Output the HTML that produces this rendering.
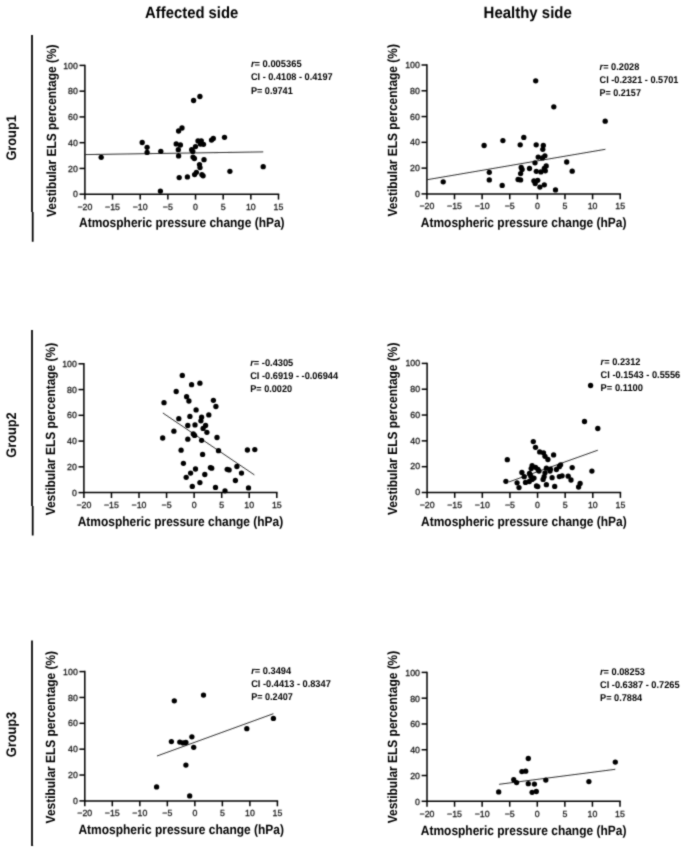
<!DOCTYPE html>
<html><head><meta charset="utf-8"><title>Figure</title>
<style>html,body{margin:0;padding:0;background:#fff;}svg{display:block;}text{font-family:"Liberation Sans", sans-serif;fill:#000;text-rendering:geometricPrecision;}.t{fill:#111;stroke:#111;stroke-width:0.25px;}</style>
</head><body>
<svg width="685" height="853" viewBox="0 0 685 853">
<rect x="0" y="0" width="685" height="853" fill="#ffffff"/>
<defs><filter id="soft" x="0" y="0" width="685" height="853" filterUnits="userSpaceOnUse"><feConvolveMatrix order="3" kernelMatrix="0.03 0.1 0.03 0.1 0.48 0.1 0.03 0.1 0.03" divisor="1" edgeMode="duplicate" preserveAlpha="false"/></filter></defs>
<g id="all" filter="url(#soft)">
<text x="145.1" y="17.6" font-size="16.20" font-weight="bold" text-anchor="start" textLength="93.2" lengthAdjust="spacingAndGlyphs">Affected side</text>
<text x="483.6" y="17.6" font-size="16.20" font-weight="bold" text-anchor="start" textLength="88.2" lengthAdjust="spacingAndGlyphs">Healthy side</text>
<path d="M32.0 35.1 V212.0 M32.7 212.0 V241.8" fill="none" stroke="#000" stroke-width="1.75"/>
<text transform="translate(16.0,137.9) rotate(-90)" font-size="13.9" font-weight="bold" text-anchor="middle" textLength="45.4" lengthAdjust="spacingAndGlyphs">Group1</text>
<path d="M32.0 330.0 V506.0 M32.7 506.0 V535.5" fill="none" stroke="#000" stroke-width="1.75"/>
<text transform="translate(16.0,435.0) rotate(-90)" font-size="13.9" font-weight="bold" text-anchor="middle" textLength="45.4" lengthAdjust="spacingAndGlyphs">Group2</text>
<path d="M32.0 640.5 V846.0 M32.7 846.0 V845.8" fill="none" stroke="#000" stroke-width="1.75"/>
<text transform="translate(16.0,734.5) rotate(-90)" font-size="13.9" font-weight="bold" text-anchor="middle" textLength="45.4" lengthAdjust="spacingAndGlyphs">Group3</text>
<g>
<path d="M84.90 65.40 V194.20 H278.50" fill="none" stroke="#000" stroke-width="1.50" stroke-linecap="square"/>
<line x1="79.50" y1="194.20" x2="84.90" y2="194.20" stroke="#000" stroke-width="1.50"/>
<text class="t" x="77.90" y="197.30" font-size="8.80" font-weight="normal" text-anchor="end">0</text>
<line x1="79.50" y1="168.44" x2="84.90" y2="168.44" stroke="#000" stroke-width="1.50"/>
<text class="t" x="77.90" y="171.54" font-size="8.80" font-weight="normal" text-anchor="end">20</text>
<line x1="79.50" y1="142.68" x2="84.90" y2="142.68" stroke="#000" stroke-width="1.50"/>
<text class="t" x="77.90" y="145.78" font-size="8.80" font-weight="normal" text-anchor="end">40</text>
<line x1="79.50" y1="116.92" x2="84.90" y2="116.92" stroke="#000" stroke-width="1.50"/>
<text class="t" x="77.90" y="120.02" font-size="8.80" font-weight="normal" text-anchor="end">60</text>
<line x1="79.50" y1="91.16" x2="84.90" y2="91.16" stroke="#000" stroke-width="1.50"/>
<text class="t" x="77.90" y="94.26" font-size="8.80" font-weight="normal" text-anchor="end">80</text>
<line x1="79.50" y1="65.40" x2="84.90" y2="65.40" stroke="#000" stroke-width="1.50"/>
<text class="t" x="77.90" y="68.50" font-size="8.80" font-weight="normal" text-anchor="end">100</text>
<line x1="84.90" y1="194.20" x2="84.90" y2="199.60" stroke="#000" stroke-width="1.50"/>
<text class="t" x="84.90" y="209.50" font-size="8.80" font-weight="normal" text-anchor="middle">−20</text>
<line x1="112.56" y1="194.20" x2="112.56" y2="199.60" stroke="#000" stroke-width="1.50"/>
<text class="t" x="112.56" y="209.50" font-size="8.80" font-weight="normal" text-anchor="middle">−15</text>
<line x1="140.21" y1="194.20" x2="140.21" y2="199.60" stroke="#000" stroke-width="1.50"/>
<text class="t" x="140.21" y="209.50" font-size="8.80" font-weight="normal" text-anchor="middle">−10</text>
<line x1="167.87" y1="194.20" x2="167.87" y2="199.60" stroke="#000" stroke-width="1.50"/>
<text class="t" x="167.87" y="209.50" font-size="8.80" font-weight="normal" text-anchor="middle">−5</text>
<line x1="195.53" y1="194.20" x2="195.53" y2="199.60" stroke="#000" stroke-width="1.50"/>
<text class="t" x="195.53" y="209.50" font-size="8.80" font-weight="normal" text-anchor="middle">0</text>
<line x1="223.19" y1="194.20" x2="223.19" y2="199.60" stroke="#000" stroke-width="1.50"/>
<text class="t" x="223.19" y="209.50" font-size="8.80" font-weight="normal" text-anchor="middle">5</text>
<line x1="250.84" y1="194.20" x2="250.84" y2="199.60" stroke="#000" stroke-width="1.50"/>
<text class="t" x="250.84" y="209.50" font-size="8.80" font-weight="normal" text-anchor="middle">10</text>
<line x1="278.50" y1="194.20" x2="278.50" y2="199.60" stroke="#000" stroke-width="1.50"/>
<text class="t" x="278.50" y="209.50" font-size="8.80" font-weight="normal" text-anchor="middle">15</text>
<text x="181.80" y="227.00" font-size="13.30" font-weight="bold" text-anchor="middle" textLength="205.6" lengthAdjust="spacingAndGlyphs">Atmospheric pressure change (hPa)</text>
<text transform="translate(55.70,130.70) rotate(-90)" font-size="13.30" font-weight="bold" text-anchor="middle" textLength="172.5" lengthAdjust="spacingAndGlyphs">Vestibular ELS percentage (%)</text>
<line x1="84.90" y1="154.60" x2="263.20" y2="151.90" stroke="#222" stroke-width="0.95"/>
<circle cx="101.2" cy="157.3" r="2.65" fill="#000"/>
<circle cx="142.2" cy="142.5" r="2.65" fill="#000"/>
<circle cx="147.1" cy="147.3" r="2.65" fill="#000"/>
<circle cx="147.1" cy="152.4" r="2.65" fill="#000"/>
<circle cx="160.8" cy="151.3" r="2.65" fill="#000"/>
<circle cx="160.4" cy="191.1" r="2.65" fill="#000"/>
<circle cx="176.2" cy="143.9" r="2.65" fill="#000"/>
<circle cx="180.4" cy="145.0" r="2.65" fill="#000"/>
<circle cx="178.3" cy="149.7" r="2.65" fill="#000"/>
<circle cx="178.6" cy="155.9" r="2.65" fill="#000"/>
<circle cx="178.6" cy="131.0" r="2.65" fill="#000"/>
<circle cx="182.0" cy="128.0" r="2.65" fill="#000"/>
<circle cx="179.2" cy="177.6" r="2.65" fill="#000"/>
<circle cx="187.4" cy="176.9" r="2.65" fill="#000"/>
<circle cx="193.6" cy="100.5" r="2.65" fill="#000"/>
<circle cx="199.9" cy="96.5" r="2.65" fill="#000"/>
<circle cx="191.7" cy="149.7" r="2.65" fill="#000"/>
<circle cx="192.8" cy="151.4" r="2.65" fill="#000"/>
<circle cx="195.5" cy="146.6" r="2.65" fill="#000"/>
<circle cx="198.0" cy="140.9" r="2.65" fill="#000"/>
<circle cx="201.3" cy="140.8" r="2.65" fill="#000"/>
<circle cx="200.4" cy="144.0" r="2.65" fill="#000"/>
<circle cx="203.5" cy="144.3" r="2.65" fill="#000"/>
<circle cx="211.5" cy="140.1" r="2.65" fill="#000"/>
<circle cx="213.3" cy="138.5" r="2.65" fill="#000"/>
<circle cx="224.5" cy="137.3" r="2.65" fill="#000"/>
<circle cx="193.0" cy="157.1" r="2.65" fill="#000"/>
<circle cx="194.4" cy="158.5" r="2.65" fill="#000"/>
<circle cx="204.0" cy="159.7" r="2.65" fill="#000"/>
<circle cx="199.5" cy="164.6" r="2.65" fill="#000"/>
<circle cx="200.0" cy="167.6" r="2.65" fill="#000"/>
<circle cx="196.4" cy="172.3" r="2.65" fill="#000"/>
<circle cx="194.6" cy="174.6" r="2.65" fill="#000"/>
<circle cx="201.9" cy="174.6" r="2.65" fill="#000"/>
<circle cx="203.1" cy="175.8" r="2.65" fill="#000"/>
<circle cx="229.9" cy="171.3" r="2.65" fill="#000"/>
<circle cx="263.2" cy="166.7" r="2.65" fill="#000"/>
<text x="250.9" y="67.2" font-size="9.80" font-weight="bold" textLength="50.7" lengthAdjust="spacingAndGlyphs"><tspan font-style="italic">r</tspan>= 0.005365</text>
<text x="250.9" y="80.2" font-size="9.80" font-weight="bold" textLength="81.8" lengthAdjust="spacingAndGlyphs">CI - 0.4108 - 0.4197</text>
<text x="250.9" y="93.5" font-size="9.80" font-weight="bold" textLength="41.9" lengthAdjust="spacingAndGlyphs">P= 0.9741</text>
</g>
<g>
<path d="M426.90 65.00 V193.90 H620.20" fill="none" stroke="#000" stroke-width="1.50" stroke-linecap="square"/>
<line x1="421.50" y1="193.90" x2="426.90" y2="193.90" stroke="#000" stroke-width="1.50"/>
<text class="t" x="419.90" y="197.00" font-size="8.80" font-weight="normal" text-anchor="end">0</text>
<line x1="421.50" y1="168.12" x2="426.90" y2="168.12" stroke="#000" stroke-width="1.50"/>
<text class="t" x="419.90" y="171.22" font-size="8.80" font-weight="normal" text-anchor="end">20</text>
<line x1="421.50" y1="142.34" x2="426.90" y2="142.34" stroke="#000" stroke-width="1.50"/>
<text class="t" x="419.90" y="145.44" font-size="8.80" font-weight="normal" text-anchor="end">40</text>
<line x1="421.50" y1="116.56" x2="426.90" y2="116.56" stroke="#000" stroke-width="1.50"/>
<text class="t" x="419.90" y="119.66" font-size="8.80" font-weight="normal" text-anchor="end">60</text>
<line x1="421.50" y1="90.78" x2="426.90" y2="90.78" stroke="#000" stroke-width="1.50"/>
<text class="t" x="419.90" y="93.88" font-size="8.80" font-weight="normal" text-anchor="end">80</text>
<line x1="421.50" y1="65.00" x2="426.90" y2="65.00" stroke="#000" stroke-width="1.50"/>
<text class="t" x="419.90" y="68.10" font-size="8.80" font-weight="normal" text-anchor="end">100</text>
<line x1="426.90" y1="193.90" x2="426.90" y2="199.30" stroke="#000" stroke-width="1.50"/>
<text class="t" x="426.90" y="209.20" font-size="8.80" font-weight="normal" text-anchor="middle">−20</text>
<line x1="454.51" y1="193.90" x2="454.51" y2="199.30" stroke="#000" stroke-width="1.50"/>
<text class="t" x="454.51" y="209.20" font-size="8.80" font-weight="normal" text-anchor="middle">−15</text>
<line x1="482.13" y1="193.90" x2="482.13" y2="199.30" stroke="#000" stroke-width="1.50"/>
<text class="t" x="482.13" y="209.20" font-size="8.80" font-weight="normal" text-anchor="middle">−10</text>
<line x1="509.74" y1="193.90" x2="509.74" y2="199.30" stroke="#000" stroke-width="1.50"/>
<text class="t" x="509.74" y="209.20" font-size="8.80" font-weight="normal" text-anchor="middle">−5</text>
<line x1="537.36" y1="193.90" x2="537.36" y2="199.30" stroke="#000" stroke-width="1.50"/>
<text class="t" x="537.36" y="209.20" font-size="8.80" font-weight="normal" text-anchor="middle">0</text>
<line x1="564.97" y1="193.90" x2="564.97" y2="199.30" stroke="#000" stroke-width="1.50"/>
<text class="t" x="564.97" y="209.20" font-size="8.80" font-weight="normal" text-anchor="middle">5</text>
<line x1="592.59" y1="193.90" x2="592.59" y2="199.30" stroke="#000" stroke-width="1.50"/>
<text class="t" x="592.59" y="209.20" font-size="8.80" font-weight="normal" text-anchor="middle">10</text>
<line x1="620.20" y1="193.90" x2="620.20" y2="199.30" stroke="#000" stroke-width="1.50"/>
<text class="t" x="620.20" y="209.20" font-size="8.80" font-weight="normal" text-anchor="middle">15</text>
<text x="523.65" y="227.00" font-size="13.30" font-weight="bold" text-anchor="middle" textLength="205.6" lengthAdjust="spacingAndGlyphs">Atmospheric pressure change (hPa)</text>
<text transform="translate(397.00,130.35) rotate(-90)" font-size="13.30" font-weight="bold" text-anchor="middle" textLength="172.5" lengthAdjust="spacingAndGlyphs">Vestibular ELS percentage (%)</text>
<line x1="427.20" y1="179.70" x2="605.40" y2="149.30" stroke="#222" stroke-width="0.95"/>
<circle cx="443.2" cy="181.8" r="2.65" fill="#000"/>
<circle cx="484.1" cy="145.5" r="2.65" fill="#000"/>
<circle cx="489.3" cy="172.3" r="2.65" fill="#000"/>
<circle cx="489.3" cy="179.9" r="2.65" fill="#000"/>
<circle cx="502.9" cy="140.6" r="2.65" fill="#000"/>
<circle cx="502.2" cy="185.4" r="2.65" fill="#000"/>
<circle cx="520.2" cy="144.8" r="2.65" fill="#000"/>
<circle cx="523.8" cy="137.4" r="2.65" fill="#000"/>
<circle cx="521.2" cy="167.4" r="2.65" fill="#000"/>
<circle cx="522.1" cy="169.5" r="2.65" fill="#000"/>
<circle cx="520.6" cy="173.6" r="2.65" fill="#000"/>
<circle cx="518.1" cy="179.5" r="2.65" fill="#000"/>
<circle cx="520.6" cy="179.9" r="2.65" fill="#000"/>
<circle cx="529.5" cy="168.5" r="2.65" fill="#000"/>
<circle cx="535.7" cy="80.8" r="2.65" fill="#000"/>
<circle cx="536.2" cy="144.8" r="2.65" fill="#000"/>
<circle cx="543.3" cy="145.5" r="2.65" fill="#000"/>
<circle cx="542.8" cy="149.3" r="2.65" fill="#000"/>
<circle cx="538.2" cy="157.1" r="2.65" fill="#000"/>
<circle cx="542.4" cy="157.9" r="2.65" fill="#000"/>
<circle cx="544.9" cy="155.8" r="2.65" fill="#000"/>
<circle cx="535.0" cy="162.8" r="2.65" fill="#000"/>
<circle cx="546.2" cy="166.0" r="2.65" fill="#000"/>
<circle cx="544.3" cy="168.5" r="2.65" fill="#000"/>
<circle cx="545.3" cy="170.8" r="2.65" fill="#000"/>
<circle cx="536.3" cy="171.3" r="2.65" fill="#000"/>
<circle cx="540.9" cy="171.9" r="2.65" fill="#000"/>
<circle cx="533.9" cy="180.8" r="2.65" fill="#000"/>
<circle cx="537.7" cy="180.3" r="2.65" fill="#000"/>
<circle cx="535.2" cy="183.5" r="2.65" fill="#000"/>
<circle cx="539.9" cy="187.1" r="2.65" fill="#000"/>
<circle cx="544.3" cy="184.8" r="2.65" fill="#000"/>
<circle cx="553.8" cy="106.8" r="2.65" fill="#000"/>
<circle cx="605.2" cy="121.2" r="2.65" fill="#000"/>
<circle cx="566.7" cy="162.0" r="2.65" fill="#000"/>
<circle cx="572.2" cy="171.2" r="2.65" fill="#000"/>
<circle cx="555.5" cy="189.9" r="2.65" fill="#000"/>
<text x="599.6" y="70.2" font-size="9.80" font-weight="bold" textLength="39.7" lengthAdjust="spacingAndGlyphs"><tspan font-style="italic">r</tspan>= 0.2028</text>
<text x="599.6" y="83.2" font-size="9.80" font-weight="bold" textLength="78.8" lengthAdjust="spacingAndGlyphs">CI -0.2321 - 0.5701</text>
<text x="599.6" y="96.2" font-size="9.80" font-weight="bold" textLength="41.3" lengthAdjust="spacingAndGlyphs">P= 0.2157</text>
</g>
<g>
<path d="M83.90 363.80 V492.60 H276.80" fill="none" stroke="#000" stroke-width="1.50" stroke-linecap="square"/>
<line x1="78.50" y1="492.60" x2="83.90" y2="492.60" stroke="#000" stroke-width="1.50"/>
<text class="t" x="76.90" y="495.70" font-size="8.80" font-weight="normal" text-anchor="end">0</text>
<line x1="78.50" y1="466.84" x2="83.90" y2="466.84" stroke="#000" stroke-width="1.50"/>
<text class="t" x="76.90" y="469.94" font-size="8.80" font-weight="normal" text-anchor="end">20</text>
<line x1="78.50" y1="441.08" x2="83.90" y2="441.08" stroke="#000" stroke-width="1.50"/>
<text class="t" x="76.90" y="444.18" font-size="8.80" font-weight="normal" text-anchor="end">40</text>
<line x1="78.50" y1="415.32" x2="83.90" y2="415.32" stroke="#000" stroke-width="1.50"/>
<text class="t" x="76.90" y="418.42" font-size="8.80" font-weight="normal" text-anchor="end">60</text>
<line x1="78.50" y1="389.56" x2="83.90" y2="389.56" stroke="#000" stroke-width="1.50"/>
<text class="t" x="76.90" y="392.66" font-size="8.80" font-weight="normal" text-anchor="end">80</text>
<line x1="78.50" y1="363.80" x2="83.90" y2="363.80" stroke="#000" stroke-width="1.50"/>
<text class="t" x="76.90" y="366.90" font-size="8.80" font-weight="normal" text-anchor="end">100</text>
<line x1="83.90" y1="492.60" x2="83.90" y2="498.00" stroke="#000" stroke-width="1.50"/>
<text class="t" x="83.90" y="507.90" font-size="8.80" font-weight="normal" text-anchor="middle">−20</text>
<line x1="111.46" y1="492.60" x2="111.46" y2="498.00" stroke="#000" stroke-width="1.50"/>
<text class="t" x="111.46" y="507.90" font-size="8.80" font-weight="normal" text-anchor="middle">−15</text>
<line x1="139.01" y1="492.60" x2="139.01" y2="498.00" stroke="#000" stroke-width="1.50"/>
<text class="t" x="139.01" y="507.90" font-size="8.80" font-weight="normal" text-anchor="middle">−10</text>
<line x1="166.57" y1="492.60" x2="166.57" y2="498.00" stroke="#000" stroke-width="1.50"/>
<text class="t" x="166.57" y="507.90" font-size="8.80" font-weight="normal" text-anchor="middle">−5</text>
<line x1="194.13" y1="492.60" x2="194.13" y2="498.00" stroke="#000" stroke-width="1.50"/>
<text class="t" x="194.13" y="507.90" font-size="8.80" font-weight="normal" text-anchor="middle">0</text>
<line x1="221.69" y1="492.60" x2="221.69" y2="498.00" stroke="#000" stroke-width="1.50"/>
<text class="t" x="221.69" y="507.90" font-size="8.80" font-weight="normal" text-anchor="middle">5</text>
<line x1="249.24" y1="492.60" x2="249.24" y2="498.00" stroke="#000" stroke-width="1.50"/>
<text class="t" x="249.24" y="507.90" font-size="8.80" font-weight="normal" text-anchor="middle">10</text>
<line x1="276.80" y1="492.60" x2="276.80" y2="498.00" stroke="#000" stroke-width="1.50"/>
<text class="t" x="276.80" y="507.90" font-size="8.80" font-weight="normal" text-anchor="middle">15</text>
<text x="180.45" y="526.30" font-size="13.30" font-weight="bold" text-anchor="middle" textLength="205.6" lengthAdjust="spacingAndGlyphs">Atmospheric pressure change (hPa)</text>
<text transform="translate(54.70,429.10) rotate(-90)" font-size="13.30" font-weight="bold" text-anchor="middle" textLength="172.5" lengthAdjust="spacingAndGlyphs">Vestibular ELS percentage (%)</text>
<line x1="162.90" y1="413.00" x2="254.40" y2="474.90" stroke="#222" stroke-width="0.95"/>
<circle cx="182.3" cy="375.4" r="2.65" fill="#000"/>
<circle cx="191.6" cy="384.7" r="2.65" fill="#000"/>
<circle cx="199.9" cy="383.2" r="2.65" fill="#000"/>
<circle cx="176.2" cy="391.5" r="2.65" fill="#000"/>
<circle cx="186.6" cy="396.7" r="2.65" fill="#000"/>
<circle cx="188.9" cy="401.0" r="2.65" fill="#000"/>
<circle cx="164.0" cy="402.7" r="2.65" fill="#000"/>
<circle cx="213.4" cy="400.3" r="2.65" fill="#000"/>
<circle cx="215.9" cy="406.5" r="2.65" fill="#000"/>
<circle cx="196.1" cy="409.9" r="2.65" fill="#000"/>
<circle cx="208.8" cy="414.9" r="2.65" fill="#000"/>
<circle cx="189.9" cy="416.4" r="2.65" fill="#000"/>
<circle cx="201.6" cy="417.2" r="2.65" fill="#000"/>
<circle cx="178.8" cy="418.7" r="2.65" fill="#000"/>
<circle cx="200.9" cy="420.8" r="2.65" fill="#000"/>
<circle cx="187.8" cy="425.5" r="2.65" fill="#000"/>
<circle cx="195.0" cy="424.9" r="2.65" fill="#000"/>
<circle cx="205.6" cy="425.5" r="2.65" fill="#000"/>
<circle cx="203.1" cy="428.4" r="2.65" fill="#000"/>
<circle cx="173.9" cy="431.2" r="2.65" fill="#000"/>
<circle cx="206.9" cy="432.3" r="2.65" fill="#000"/>
<circle cx="193.3" cy="434.0" r="2.65" fill="#000"/>
<circle cx="194.6" cy="435.4" r="2.65" fill="#000"/>
<circle cx="162.7" cy="438.0" r="2.65" fill="#000"/>
<circle cx="187.8" cy="439.2" r="2.65" fill="#000"/>
<circle cx="201.6" cy="440.3" r="2.65" fill="#000"/>
<circle cx="217.0" cy="437.5" r="2.65" fill="#000"/>
<circle cx="181.1" cy="450.2" r="2.65" fill="#000"/>
<circle cx="218.5" cy="450.7" r="2.65" fill="#000"/>
<circle cx="202.6" cy="454.4" r="2.65" fill="#000"/>
<circle cx="247.4" cy="450.0" r="2.65" fill="#000"/>
<circle cx="254.8" cy="449.6" r="2.65" fill="#000"/>
<circle cx="183.4" cy="463.3" r="2.65" fill="#000"/>
<circle cx="236.9" cy="466.5" r="2.65" fill="#000"/>
<circle cx="195.5" cy="469.0" r="2.65" fill="#000"/>
<circle cx="210.4" cy="467.6" r="2.65" fill="#000"/>
<circle cx="211.7" cy="468.2" r="2.65" fill="#000"/>
<circle cx="227.2" cy="469.3" r="2.65" fill="#000"/>
<circle cx="229.1" cy="469.9" r="2.65" fill="#000"/>
<circle cx="190.6" cy="473.1" r="2.65" fill="#000"/>
<circle cx="204.8" cy="474.5" r="2.65" fill="#000"/>
<circle cx="241.5" cy="473.1" r="2.65" fill="#000"/>
<circle cx="186.2" cy="477.3" r="2.65" fill="#000"/>
<circle cx="235.4" cy="480.5" r="2.65" fill="#000"/>
<circle cx="199.9" cy="482.6" r="2.65" fill="#000"/>
<circle cx="192.3" cy="486.4" r="2.65" fill="#000"/>
<circle cx="215.5" cy="487.4" r="2.65" fill="#000"/>
<circle cx="248.5" cy="487.9" r="2.65" fill="#000"/>
<circle cx="225.0" cy="490.8" r="2.65" fill="#000"/>
<text x="250.2" y="365.6" font-size="9.80" font-weight="bold" textLength="43.1" lengthAdjust="spacingAndGlyphs"><tspan font-style="italic">r</tspan>= -0.4305</text>
<text x="250.2" y="378.5" font-size="9.80" font-weight="bold" textLength="87.9" lengthAdjust="spacingAndGlyphs">CI -0.6919 - -0.06944</text>
<text x="250.2" y="391.5" font-size="9.80" font-weight="bold" textLength="41.9" lengthAdjust="spacingAndGlyphs">P= 0.0020</text>
</g>
<g>
<path d="M427.10 363.40 V492.50 H620.40" fill="none" stroke="#000" stroke-width="1.50" stroke-linecap="square"/>
<line x1="421.70" y1="492.50" x2="427.10" y2="492.50" stroke="#000" stroke-width="1.50"/>
<text class="t" x="420.10" y="495.30" font-size="8.80" font-weight="normal" text-anchor="end">0</text>
<line x1="421.70" y1="466.68" x2="427.10" y2="466.68" stroke="#000" stroke-width="1.50"/>
<text class="t" x="420.10" y="469.48" font-size="8.80" font-weight="normal" text-anchor="end">20</text>
<line x1="421.70" y1="440.86" x2="427.10" y2="440.86" stroke="#000" stroke-width="1.50"/>
<text class="t" x="420.10" y="443.66" font-size="8.80" font-weight="normal" text-anchor="end">40</text>
<line x1="421.70" y1="415.04" x2="427.10" y2="415.04" stroke="#000" stroke-width="1.50"/>
<text class="t" x="420.10" y="417.84" font-size="8.80" font-weight="normal" text-anchor="end">60</text>
<line x1="421.70" y1="389.22" x2="427.10" y2="389.22" stroke="#000" stroke-width="1.50"/>
<text class="t" x="420.10" y="392.02" font-size="8.80" font-weight="normal" text-anchor="end">80</text>
<line x1="421.70" y1="363.40" x2="427.10" y2="363.40" stroke="#000" stroke-width="1.50"/>
<text class="t" x="420.10" y="366.20" font-size="8.80" font-weight="normal" text-anchor="end">100</text>
<line x1="427.10" y1="492.50" x2="427.10" y2="497.90" stroke="#000" stroke-width="1.50"/>
<text class="t" x="427.10" y="507.50" font-size="8.80" font-weight="normal" text-anchor="middle">−20</text>
<line x1="454.71" y1="492.50" x2="454.71" y2="497.90" stroke="#000" stroke-width="1.50"/>
<text class="t" x="454.71" y="507.50" font-size="8.80" font-weight="normal" text-anchor="middle">−15</text>
<line x1="482.33" y1="492.50" x2="482.33" y2="497.90" stroke="#000" stroke-width="1.50"/>
<text class="t" x="482.33" y="507.50" font-size="8.80" font-weight="normal" text-anchor="middle">−10</text>
<line x1="509.94" y1="492.50" x2="509.94" y2="497.90" stroke="#000" stroke-width="1.50"/>
<text class="t" x="509.94" y="507.50" font-size="8.80" font-weight="normal" text-anchor="middle">−5</text>
<line x1="537.56" y1="492.50" x2="537.56" y2="497.90" stroke="#000" stroke-width="1.50"/>
<text class="t" x="537.56" y="507.50" font-size="8.80" font-weight="normal" text-anchor="middle">0</text>
<line x1="565.17" y1="492.50" x2="565.17" y2="497.90" stroke="#000" stroke-width="1.50"/>
<text class="t" x="565.17" y="507.50" font-size="8.80" font-weight="normal" text-anchor="middle">5</text>
<line x1="592.79" y1="492.50" x2="592.79" y2="497.90" stroke="#000" stroke-width="1.50"/>
<text class="t" x="592.79" y="507.50" font-size="8.80" font-weight="normal" text-anchor="middle">10</text>
<line x1="620.40" y1="492.50" x2="620.40" y2="497.90" stroke="#000" stroke-width="1.50"/>
<text class="t" x="620.40" y="507.50" font-size="8.80" font-weight="normal" text-anchor="middle">15</text>
<text x="523.85" y="525.60" font-size="13.30" font-weight="bold" text-anchor="middle" textLength="205.6" lengthAdjust="spacingAndGlyphs">Atmospheric pressure change (hPa)</text>
<text transform="translate(397.20,428.85) rotate(-90)" font-size="13.30" font-weight="bold" text-anchor="middle" textLength="172.5" lengthAdjust="spacingAndGlyphs">Vestibular ELS percentage (%)</text>
<line x1="509.00" y1="481.90" x2="597.80" y2="450.20" stroke="#222" stroke-width="0.95"/>
<circle cx="590.6" cy="385.5" r="2.65" fill="#000"/>
<circle cx="584.5" cy="421.5" r="2.65" fill="#000"/>
<circle cx="597.8" cy="428.5" r="2.65" fill="#000"/>
<circle cx="533.3" cy="441.6" r="2.65" fill="#000"/>
<circle cx="535.5" cy="447.3" r="2.65" fill="#000"/>
<circle cx="539.7" cy="451.9" r="2.65" fill="#000"/>
<circle cx="543.5" cy="452.8" r="2.65" fill="#000"/>
<circle cx="545.0" cy="456.3" r="2.65" fill="#000"/>
<circle cx="553.6" cy="454.9" r="2.65" fill="#000"/>
<circle cx="547.9" cy="459.5" r="2.65" fill="#000"/>
<circle cx="507.3" cy="459.7" r="2.65" fill="#000"/>
<circle cx="532.1" cy="465.7" r="2.65" fill="#000"/>
<circle cx="535.5" cy="467.3" r="2.65" fill="#000"/>
<circle cx="531.2" cy="468.6" r="2.65" fill="#000"/>
<circle cx="538.0" cy="469.5" r="2.65" fill="#000"/>
<circle cx="539.0" cy="471.1" r="2.65" fill="#000"/>
<circle cx="546.4" cy="468.2" r="2.65" fill="#000"/>
<circle cx="550.4" cy="469.2" r="2.65" fill="#000"/>
<circle cx="550.0" cy="471.1" r="2.65" fill="#000"/>
<circle cx="560.6" cy="464.8" r="2.65" fill="#000"/>
<circle cx="559.3" cy="466.7" r="2.65" fill="#000"/>
<circle cx="556.4" cy="469.5" r="2.65" fill="#000"/>
<circle cx="572.2" cy="467.6" r="2.65" fill="#000"/>
<circle cx="591.9" cy="471.1" r="2.65" fill="#000"/>
<circle cx="521.9" cy="472.4" r="2.65" fill="#000"/>
<circle cx="529.5" cy="473.3" r="2.65" fill="#000"/>
<circle cx="545.0" cy="472.8" r="2.65" fill="#000"/>
<circle cx="524.2" cy="476.7" r="2.65" fill="#000"/>
<circle cx="530.8" cy="476.2" r="2.65" fill="#000"/>
<circle cx="534.0" cy="478.1" r="2.65" fill="#000"/>
<circle cx="544.1" cy="476.7" r="2.65" fill="#000"/>
<circle cx="543.1" cy="479.4" r="2.65" fill="#000"/>
<circle cx="552.1" cy="477.7" r="2.65" fill="#000"/>
<circle cx="559.3" cy="476.6" r="2.65" fill="#000"/>
<circle cx="562.1" cy="475.8" r="2.65" fill="#000"/>
<circle cx="568.2" cy="476.2" r="2.65" fill="#000"/>
<circle cx="571.0" cy="480.0" r="2.65" fill="#000"/>
<circle cx="505.9" cy="481.3" r="2.65" fill="#000"/>
<circle cx="517.1" cy="482.8" r="2.65" fill="#000"/>
<circle cx="525.5" cy="482.4" r="2.65" fill="#000"/>
<circle cx="529.3" cy="481.5" r="2.65" fill="#000"/>
<circle cx="519.0" cy="487.6" r="2.65" fill="#000"/>
<circle cx="536.5" cy="486.0" r="2.65" fill="#000"/>
<circle cx="537.8" cy="486.6" r="2.65" fill="#000"/>
<circle cx="546.4" cy="484.7" r="2.65" fill="#000"/>
<circle cx="554.7" cy="486.4" r="2.65" fill="#000"/>
<circle cx="580.1" cy="483.4" r="2.65" fill="#000"/>
<circle cx="578.6" cy="487.0" r="2.65" fill="#000"/>
<circle cx="532.1" cy="479.4" r="2.65" fill="#000"/>
<text x="600.6" y="364.9" font-size="9.80" font-weight="bold" textLength="39.9" lengthAdjust="spacingAndGlyphs"><tspan font-style="italic">r</tspan>= 0.2312</text>
<text x="600.6" y="377.8" font-size="9.80" font-weight="bold" textLength="79.6" lengthAdjust="spacingAndGlyphs">CI -0.1543 - 0.5556</text>
<text x="600.6" y="390.7" font-size="9.80" font-weight="bold" textLength="42.4" lengthAdjust="spacingAndGlyphs">P= 0.1100</text>
</g>
<g>
<path d="M84.80 671.60 V800.90 H277.40" fill="none" stroke="#000" stroke-width="1.50" stroke-linecap="square"/>
<line x1="79.40" y1="800.90" x2="84.80" y2="800.90" stroke="#000" stroke-width="1.50"/>
<text class="t" x="77.80" y="804.00" font-size="8.80" font-weight="normal" text-anchor="end">0</text>
<line x1="79.40" y1="775.04" x2="84.80" y2="775.04" stroke="#000" stroke-width="1.50"/>
<text class="t" x="77.80" y="778.14" font-size="8.80" font-weight="normal" text-anchor="end">20</text>
<line x1="79.40" y1="749.18" x2="84.80" y2="749.18" stroke="#000" stroke-width="1.50"/>
<text class="t" x="77.80" y="752.28" font-size="8.80" font-weight="normal" text-anchor="end">40</text>
<line x1="79.40" y1="723.32" x2="84.80" y2="723.32" stroke="#000" stroke-width="1.50"/>
<text class="t" x="77.80" y="726.42" font-size="8.80" font-weight="normal" text-anchor="end">60</text>
<line x1="79.40" y1="697.46" x2="84.80" y2="697.46" stroke="#000" stroke-width="1.50"/>
<text class="t" x="77.80" y="700.56" font-size="8.80" font-weight="normal" text-anchor="end">80</text>
<line x1="79.40" y1="671.60" x2="84.80" y2="671.60" stroke="#000" stroke-width="1.50"/>
<text class="t" x="77.80" y="674.70" font-size="8.80" font-weight="normal" text-anchor="end">100</text>
<line x1="84.80" y1="800.90" x2="84.80" y2="806.30" stroke="#000" stroke-width="1.50"/>
<text class="t" x="84.80" y="816.20" font-size="8.80" font-weight="normal" text-anchor="middle">−20</text>
<line x1="112.31" y1="800.90" x2="112.31" y2="806.30" stroke="#000" stroke-width="1.50"/>
<text class="t" x="112.31" y="816.20" font-size="8.80" font-weight="normal" text-anchor="middle">−15</text>
<line x1="139.83" y1="800.90" x2="139.83" y2="806.30" stroke="#000" stroke-width="1.50"/>
<text class="t" x="139.83" y="816.20" font-size="8.80" font-weight="normal" text-anchor="middle">−10</text>
<line x1="167.34" y1="800.90" x2="167.34" y2="806.30" stroke="#000" stroke-width="1.50"/>
<text class="t" x="167.34" y="816.20" font-size="8.80" font-weight="normal" text-anchor="middle">−5</text>
<line x1="194.86" y1="800.90" x2="194.86" y2="806.30" stroke="#000" stroke-width="1.50"/>
<text class="t" x="194.86" y="816.20" font-size="8.80" font-weight="normal" text-anchor="middle">0</text>
<line x1="222.37" y1="800.90" x2="222.37" y2="806.30" stroke="#000" stroke-width="1.50"/>
<text class="t" x="222.37" y="816.20" font-size="8.80" font-weight="normal" text-anchor="middle">5</text>
<line x1="249.89" y1="800.90" x2="249.89" y2="806.30" stroke="#000" stroke-width="1.50"/>
<text class="t" x="249.89" y="816.20" font-size="8.80" font-weight="normal" text-anchor="middle">10</text>
<line x1="277.40" y1="800.90" x2="277.40" y2="806.30" stroke="#000" stroke-width="1.50"/>
<text class="t" x="277.40" y="816.20" font-size="8.80" font-weight="normal" text-anchor="middle">15</text>
<text x="181.20" y="834.00" font-size="13.30" font-weight="bold" text-anchor="middle" textLength="205.6" lengthAdjust="spacingAndGlyphs">Atmospheric pressure change (hPa)</text>
<text transform="translate(54.80,737.15) rotate(-90)" font-size="13.30" font-weight="bold" text-anchor="middle" textLength="172.5" lengthAdjust="spacingAndGlyphs">Vestibular ELS percentage (%)</text>
<line x1="157.00" y1="756.00" x2="273.40" y2="713.70" stroke="#222" stroke-width="0.95"/>
<circle cx="203.5" cy="695.1" r="2.65" fill="#000"/>
<circle cx="174.3" cy="700.8" r="2.65" fill="#000"/>
<circle cx="273.4" cy="718.4" r="2.65" fill="#000"/>
<circle cx="246.8" cy="728.7" r="2.65" fill="#000"/>
<circle cx="191.9" cy="736.8" r="2.65" fill="#000"/>
<circle cx="171.4" cy="741.6" r="2.65" fill="#000"/>
<circle cx="179.8" cy="742.1" r="2.65" fill="#000"/>
<circle cx="183.2" cy="742.9" r="2.65" fill="#000"/>
<circle cx="185.9" cy="742.5" r="2.65" fill="#000"/>
<circle cx="193.7" cy="747.3" r="2.65" fill="#000"/>
<circle cx="185.9" cy="765.1" r="2.65" fill="#000"/>
<circle cx="156.6" cy="786.9" r="2.65" fill="#000"/>
<circle cx="189.7" cy="795.9" r="2.65" fill="#000"/>
<text x="251.2" y="673.9" font-size="9.80" font-weight="bold" textLength="39.9" lengthAdjust="spacingAndGlyphs"><tspan font-style="italic">r</tspan>= 0.3494</text>
<text x="251.2" y="687.2" font-size="9.80" font-weight="bold" textLength="79.6" lengthAdjust="spacingAndGlyphs">CI -0.4413 - 0.8347</text>
<text x="251.2" y="699.7" font-size="9.80" font-weight="bold" textLength="41.6" lengthAdjust="spacingAndGlyphs">P= 0.2407</text>
</g>
<g>
<path d="M427.00 672.40 V801.30 H620.00" fill="none" stroke="#000" stroke-width="1.50" stroke-linecap="square"/>
<line x1="421.60" y1="801.30" x2="427.00" y2="801.30" stroke="#000" stroke-width="1.50"/>
<text class="t" x="420.00" y="804.70" font-size="8.80" font-weight="normal" text-anchor="end">0</text>
<line x1="421.60" y1="775.52" x2="427.00" y2="775.52" stroke="#000" stroke-width="1.50"/>
<text class="t" x="420.00" y="778.92" font-size="8.80" font-weight="normal" text-anchor="end">20</text>
<line x1="421.60" y1="749.74" x2="427.00" y2="749.74" stroke="#000" stroke-width="1.50"/>
<text class="t" x="420.00" y="753.14" font-size="8.80" font-weight="normal" text-anchor="end">40</text>
<line x1="421.60" y1="723.96" x2="427.00" y2="723.96" stroke="#000" stroke-width="1.50"/>
<text class="t" x="420.00" y="727.36" font-size="8.80" font-weight="normal" text-anchor="end">60</text>
<line x1="421.60" y1="698.18" x2="427.00" y2="698.18" stroke="#000" stroke-width="1.50"/>
<text class="t" x="420.00" y="701.58" font-size="8.80" font-weight="normal" text-anchor="end">80</text>
<line x1="421.60" y1="672.40" x2="427.00" y2="672.40" stroke="#000" stroke-width="1.50"/>
<text class="t" x="420.00" y="675.80" font-size="8.80" font-weight="normal" text-anchor="end">100</text>
<line x1="427.00" y1="801.30" x2="427.00" y2="806.70" stroke="#000" stroke-width="1.50"/>
<text class="t" x="427.00" y="816.90" font-size="8.80" font-weight="normal" text-anchor="middle">−20</text>
<line x1="454.57" y1="801.30" x2="454.57" y2="806.70" stroke="#000" stroke-width="1.50"/>
<text class="t" x="454.57" y="816.90" font-size="8.80" font-weight="normal" text-anchor="middle">−15</text>
<line x1="482.14" y1="801.30" x2="482.14" y2="806.70" stroke="#000" stroke-width="1.50"/>
<text class="t" x="482.14" y="816.90" font-size="8.80" font-weight="normal" text-anchor="middle">−10</text>
<line x1="509.71" y1="801.30" x2="509.71" y2="806.70" stroke="#000" stroke-width="1.50"/>
<text class="t" x="509.71" y="816.90" font-size="8.80" font-weight="normal" text-anchor="middle">−5</text>
<line x1="537.29" y1="801.30" x2="537.29" y2="806.70" stroke="#000" stroke-width="1.50"/>
<text class="t" x="537.29" y="816.90" font-size="8.80" font-weight="normal" text-anchor="middle">0</text>
<line x1="564.86" y1="801.30" x2="564.86" y2="806.70" stroke="#000" stroke-width="1.50"/>
<text class="t" x="564.86" y="816.90" font-size="8.80" font-weight="normal" text-anchor="middle">5</text>
<line x1="592.43" y1="801.30" x2="592.43" y2="806.70" stroke="#000" stroke-width="1.50"/>
<text class="t" x="592.43" y="816.90" font-size="8.80" font-weight="normal" text-anchor="middle">10</text>
<line x1="620.00" y1="801.30" x2="620.00" y2="806.70" stroke="#000" stroke-width="1.50"/>
<text class="t" x="620.00" y="816.90" font-size="8.80" font-weight="normal" text-anchor="middle">15</text>
<text x="523.60" y="834.70" font-size="13.30" font-weight="bold" text-anchor="middle" textLength="205.6" lengthAdjust="spacingAndGlyphs">Atmospheric pressure change (hPa)</text>
<text transform="translate(397.10,737.05) rotate(-90)" font-size="13.30" font-weight="bold" text-anchor="middle" textLength="172.5" lengthAdjust="spacingAndGlyphs">Vestibular ELS percentage (%)</text>
<line x1="499.10" y1="784.30" x2="615.30" y2="769.30" stroke="#222" stroke-width="0.95"/>
<circle cx="528.3" cy="758.5" r="2.65" fill="#000"/>
<circle cx="615.3" cy="762.1" r="2.65" fill="#000"/>
<circle cx="521.9" cy="771.6" r="2.65" fill="#000"/>
<circle cx="525.7" cy="771.2" r="2.65" fill="#000"/>
<circle cx="513.7" cy="779.7" r="2.65" fill="#000"/>
<circle cx="516.6" cy="782.6" r="2.65" fill="#000"/>
<circle cx="545.8" cy="780.1" r="2.65" fill="#000"/>
<circle cx="588.9" cy="781.6" r="2.65" fill="#000"/>
<circle cx="528.3" cy="783.7" r="2.65" fill="#000"/>
<circle cx="534.4" cy="784.1" r="2.65" fill="#000"/>
<circle cx="498.7" cy="791.9" r="2.65" fill="#000"/>
<circle cx="532.1" cy="792.3" r="2.65" fill="#000"/>
<circle cx="536.3" cy="791.5" r="2.65" fill="#000"/>
<text x="600.0" y="674.6" font-size="9.80" font-weight="bold" textLength="44.9" lengthAdjust="spacingAndGlyphs"><tspan font-style="italic">r</tspan>= 0.08253</text>
<text x="600.0" y="687.7" font-size="9.80" font-weight="bold" textLength="79.6" lengthAdjust="spacingAndGlyphs">CI -0.6387 - 0.7265</text>
<text x="600.0" y="700.6" font-size="9.80" font-weight="bold" textLength="42.2" lengthAdjust="spacingAndGlyphs">P= 0.7884</text>
</g>
</g>
</svg></body></html>
